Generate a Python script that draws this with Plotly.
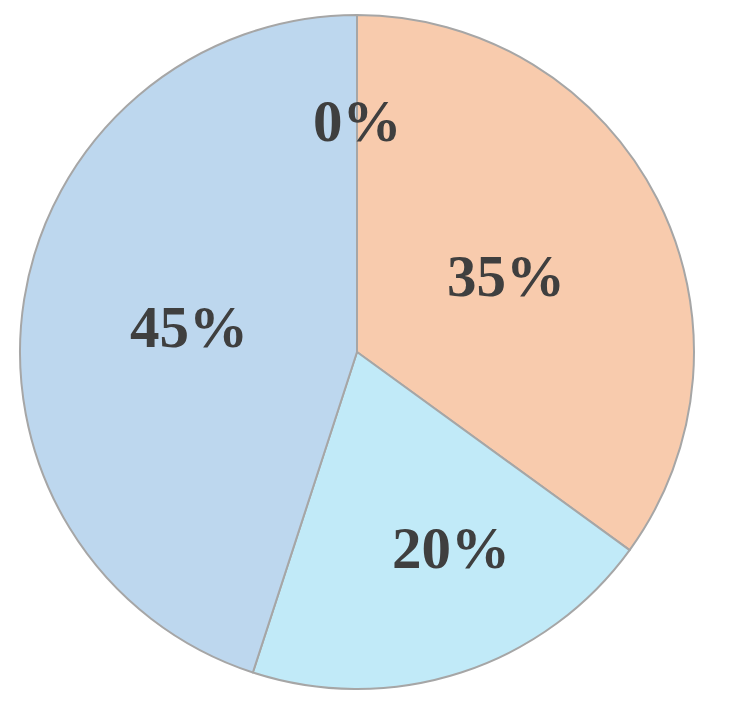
import math
import plotly.graph_objects as go

categories = ["Category A", "Category B", "Category C", "Category D"]
values = [0, 35, 20, 45]
percent_labels = ["0%", "35%", "20%", "45%"]
colors = ["#F8CBAD", "#F8CBAD", "#C1EAF8", "#BDD7EE"]

# label placement style (fraction of radius, angular shift in degrees)
label_radius = [0.685, 0.495, 0.645, 0.505]
label_angle_shift = [0, 0, -7.5, -0.5]

fig = go.Figure(go.Pie(
    labels=categories,
    values=values,
    textinfo="none",
    sort=False,
    direction="clockwise",
    rotation=0,
    marker=dict(colors=colors, line=dict(color="#A6A6A6", width=2)),
    showlegend=False,
    hoverinfo="label+percent",
))

W, H = 731, 705
ml, mr, mt, mb = 12, 45, 7, 24
pw, ph = W - ml - mr, H - mt - mb
R = min(pw, ph) / 2.0

total = sum(values)
cum = 0.0
for v, txt, rf, sh in zip(values, percent_labels, label_radius, label_angle_shift):
    mid = (cum + v / 2.0) / total * 360.0 + sh
    cum += v
    a = math.radians(mid)
    dx = rf * R * math.sin(a)
    dy = rf * R * math.cos(a)
    fig.add_annotation(
        x=0.5 + dx / pw, y=0.5 + dy / ph,
        xref="paper", yref="paper",
        xanchor="center", yanchor="middle",
        text=txt, showarrow=False,
        font=dict(family="Liberation Serif", size=59, color="#3F3F3F", weight="bold"),
    )

fig.update_layout(
    width=W, height=H,
    margin=dict(l=ml, r=mr, t=mt, b=mb),
    paper_bgcolor="white",
    plot_bgcolor="white",
)

fig.write_html("out.html")
